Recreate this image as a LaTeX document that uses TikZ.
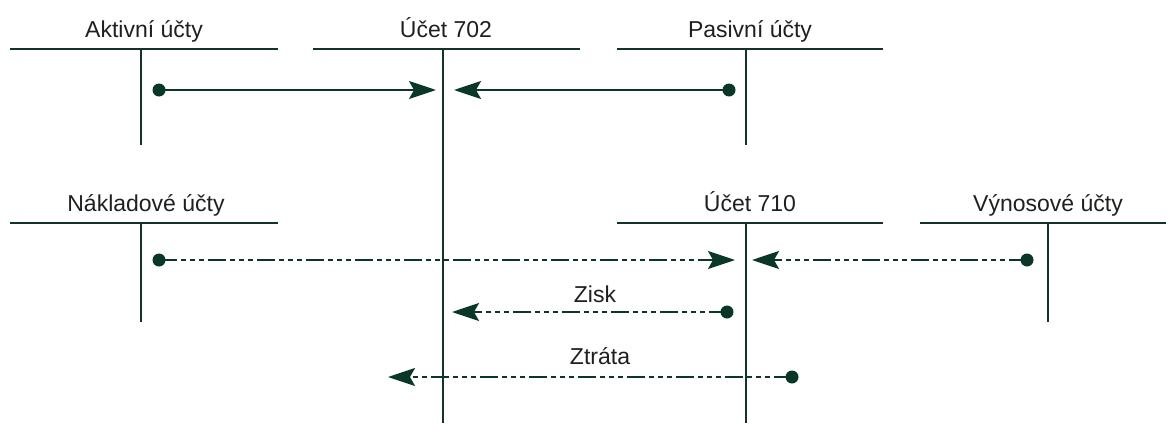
\documentclass[tikz,border=0pt]{standalone}
\usepackage{fontspec}
\setmainfont{Liberation Sans}
\usetikzlibrary{arrows.meta}
\definecolor{ink}{RGB}{10,55,40}
\definecolor{tline}{RGB}{20,50,40}
\tikzset{
  tacc/.style={draw=tline, line width=1.8pt},
  lbl/.style={font=\fontsize{23}{26}\selectfont, text=black!88, anchor=base, inner sep=0pt},
  dot/.style={circle, fill=ink, inner sep=0pt, minimum size=13pt},
  flow/.style={draw=ink, line width=2pt, -{Stealth[length=27pt,width=18pt,inset=5pt]}},
  dflow/.style={flow, dash pattern=on 18pt off 4pt on 5pt off 4pt on 5pt off 4pt on 5pt off 4pt}
}
\begin{document}
\begin{tikzpicture}[x=1pt,y=-1pt]
\useasboundingbox (0,0) rectangle (1166,423);
% T accounts, top row
\coordinate (a1) at (10,49); \coordinate (a2) at (278,49);
\coordinate (av1) at (141,49); \coordinate (av2) at (141,145);
\coordinate (b1) at (313,49); \coordinate (b2) at (580,49);
\coordinate (bv1) at (443,49); \coordinate (bv2) at (443,423);
\coordinate (c1) at (617,49); \coordinate (c2) at (883,49);
\coordinate (cv1) at (746,49); \coordinate (cv2) at (746,145);
% bottom row
\coordinate (n1) at (10,223); \coordinate (n2) at (278,223);
\coordinate (nv1) at (141,223); \coordinate (nv2) at (141,322);
\coordinate (u1) at (617,223); \coordinate (u2) at (883,223);
\coordinate (uv1) at (746,223); \coordinate (uv2) at (746,423);
\coordinate (v1) at (920,223); \coordinate (v2) at (1166,223);
\coordinate (vv1) at (1048,223); \coordinate (vv2) at (1048,322);
\draw[tacc] (a1) -- (a2) (av1) -- (av2);
\draw[tacc] (b1) -- (b2) (bv1) -- (bv2);
\draw[tacc] (c1) -- (c2) (cv1) -- (cv2);
\draw[tacc] (n1) -- (n2) (nv1) -- (nv2);
\draw[tacc] (u1) -- (u2) (uv1) -- (uv2);
\draw[tacc] (v1) -- (v2) (vv1) -- (vv2);
% labels
\node[lbl] (la) at (144,37) {Aktivní účty};
\node[lbl] (lb) at (446,37) {Účet 702};
\node[lbl] (lc) at (750,37) {Pasivní účty};
\node[lbl] (ln) at (146,211) {Nákladové účty};
\node[lbl] (lu) at (750,211) {Účet 710};
\node[lbl] (lv) at (1048,211) {Výnosové účty};
\node[lbl] (lz) at (595,302) {Zisk};
\node[lbl] (lt) at (600,364) {Ztráta};
% dots and tips
\node[dot] (d1) at (159,90) {};
\coordinate (t1) at (436,90);
\node[dot] (d2) at (729,90) {};
\coordinate (t2) at (454,90);
\node[dot] (d3) at (159,260) {};
\coordinate (t3) at (735,260);
\node[dot] (d4) at (1027,260) {};
\coordinate (t4) at (752,260);
\node[dot] (d5) at (727,312) {};
\coordinate (t5) at (452,312);
\node[dot] (d6) at (792,377) {};
\coordinate (t6) at (388,377);
% flows
\draw[flow] (d1.center) -- (t1);
\draw[flow] (d2.center) -- (t2);
\draw[dflow] (d3.center) -- (t3);
\draw[dflow] (d4.center) -- (t4);
\draw[dflow] (d5.center) -- (t5);
\draw[dflow] (d6.center) -- (t6);
\end{tikzpicture}
\end{document}
